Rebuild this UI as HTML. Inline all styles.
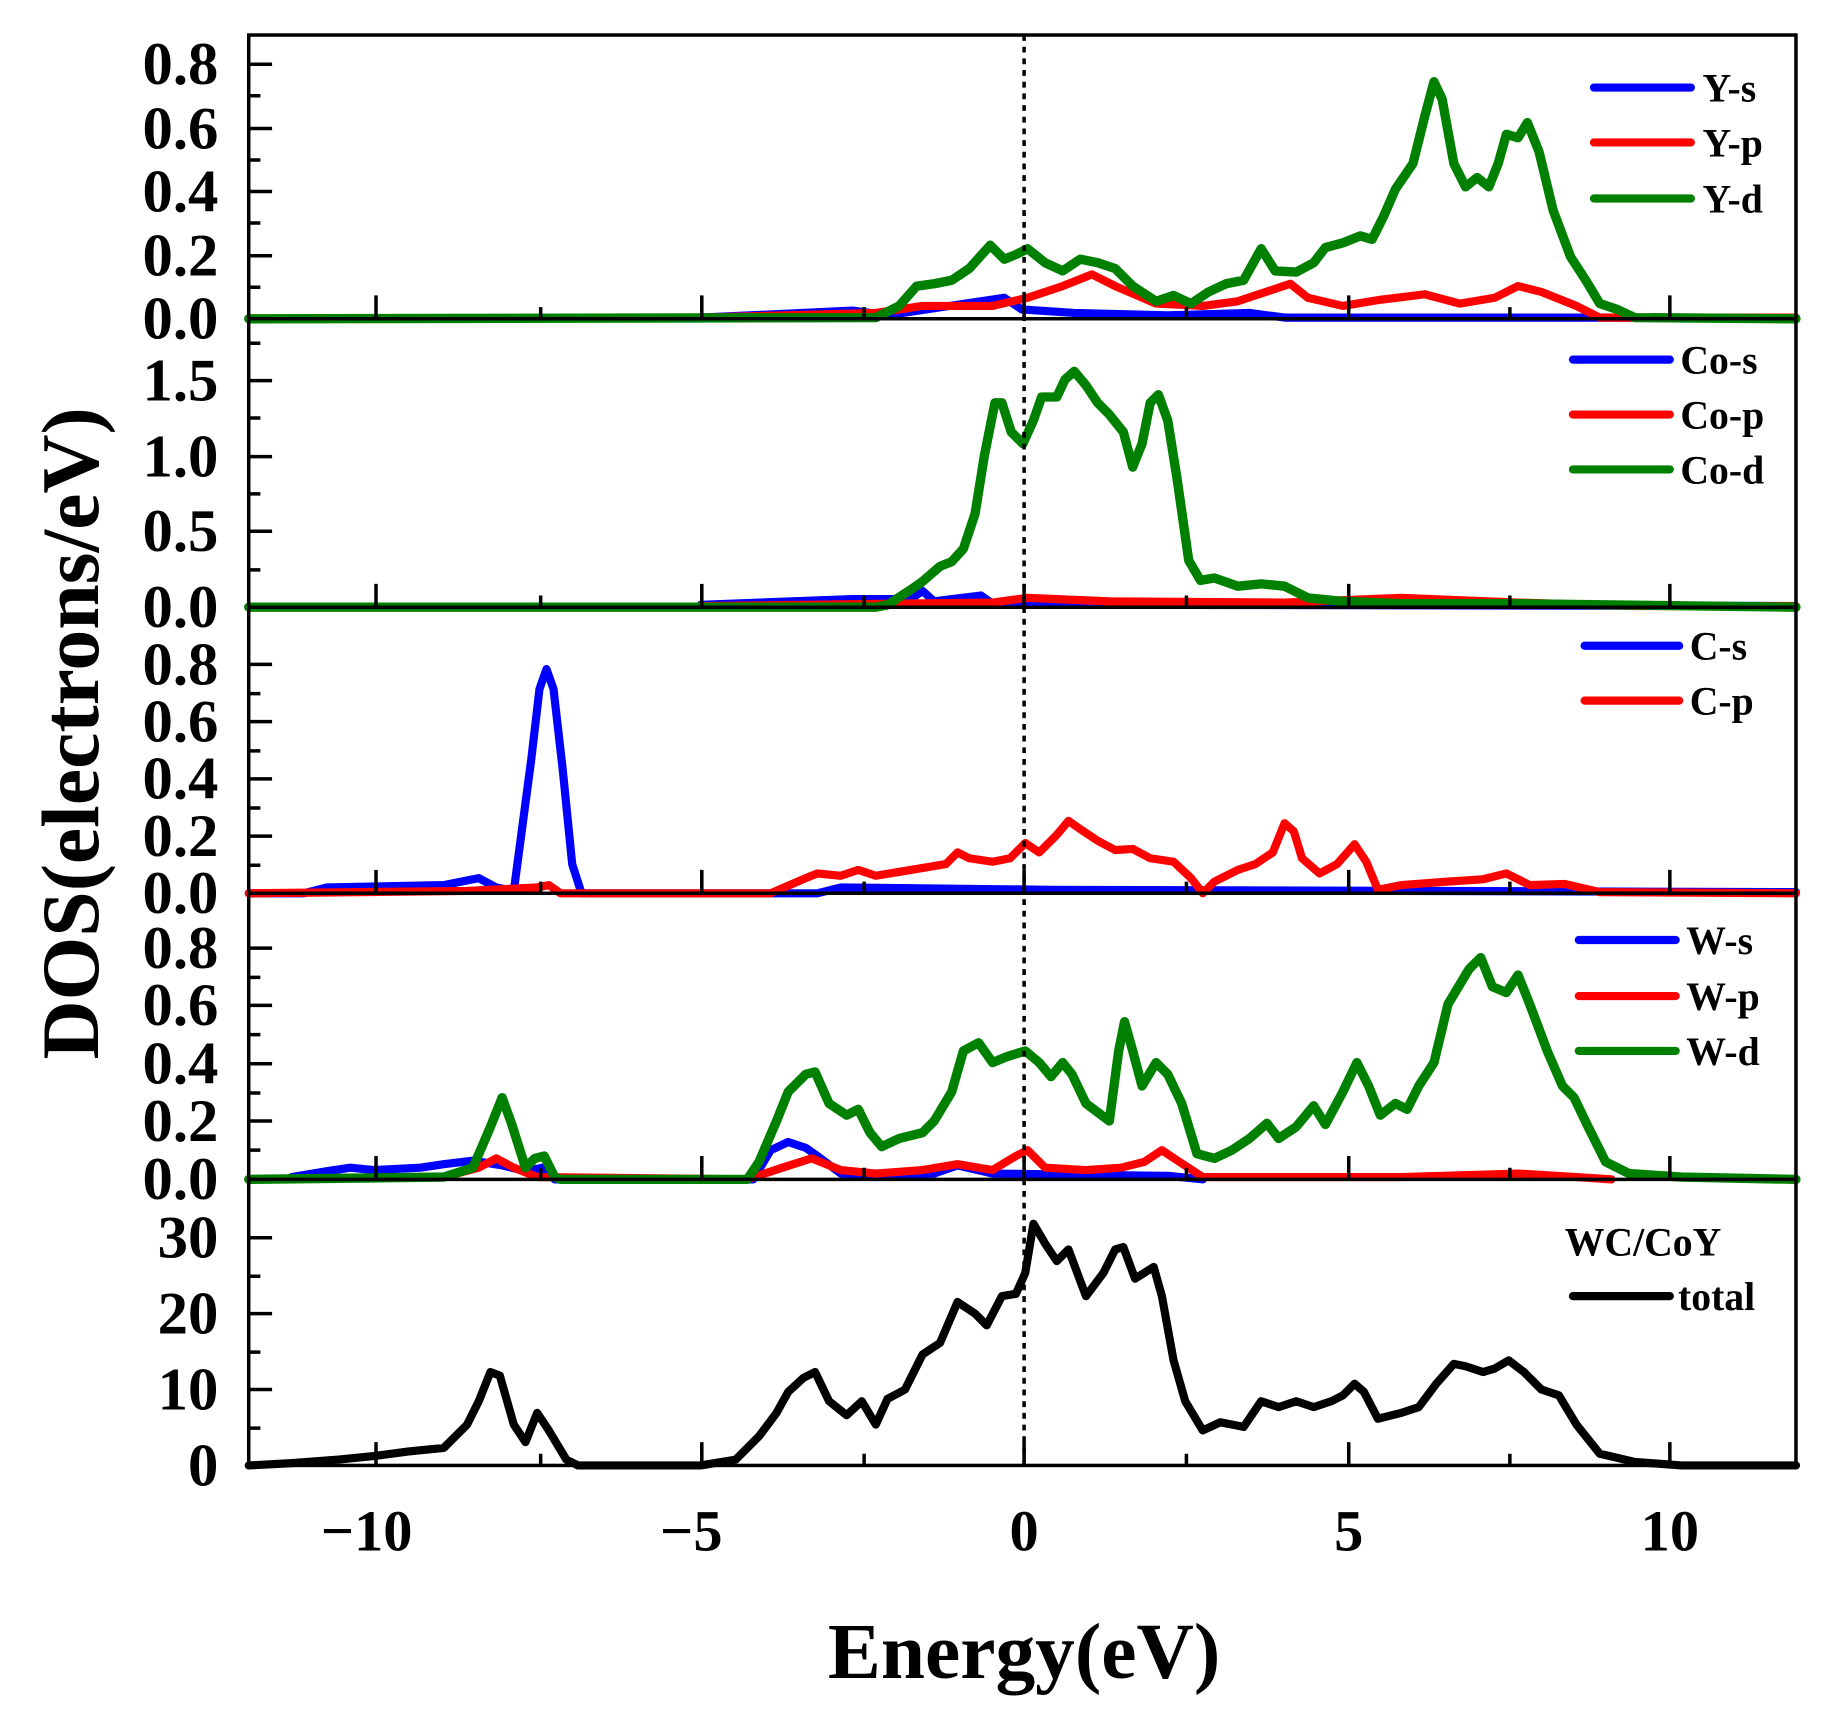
<!DOCTYPE html>
<html><head><style>
html,body{margin:0;padding:0;background:#fff;}
svg{display:block;}
text{font-family:"Liberation Serif",serif;font-weight:bold;fill:#000;}
</style></head><body>
<svg width="1831" height="1713" viewBox="0 0 1568 1467" preserveAspectRatio="none" xmlns="http://www.w3.org/2000/svg">
<rect width="1568" height="1467" fill="#fff"/>
<g fill="none" stroke-linejoin="round" stroke-linecap="round">
<polyline stroke="#0000ff" stroke-width="7" points="600,272 730,266 760,270 860,255 875,265 920,268 1000,270 1070,268 1100,272 1538,272"/>
<polyline stroke="#ff0000" stroke-width="7" points="600,272 750,268 790,262 850,262 880,255 910,245 935,235 955,245 990,260 1030,262 1060,258 1090,248 1105,243 1120,255 1150,262 1180,257 1220,252 1250,260 1280,255 1300,245 1320,250 1350,262 1370,272 1538,272"/>
<polyline stroke="#008000" stroke-width="8" points="213,273 750,272 770,262 785,245 800,243 815,240 830,230 848,210 860,222 870,218 880,213 895,225 910,232 925,222 940,225 955,230 970,245 990,258 1005,253 1020,260 1035,250 1050,243 1065,240 1080,213 1092,232 1110,233 1125,225 1135,212 1150,208 1165,202 1175,205 1185,185 1195,162 1210,140 1220,100 1228,70 1235,85 1245,140 1255,160 1265,152 1275,160 1283,140 1290,115 1300,118 1308,105 1318,130 1330,180 1345,220 1358,240 1370,260 1385,265 1400,272 1538,273"/>
<polyline stroke="#0000ff" stroke-width="7" points="600,518 730,513 780,513 790,506 800,515 840,510 850,517 1000,518 1538,519"/>
<polyline stroke="#ff0000" stroke-width="7" points="600,519 850,516 880,512 950,515 1100,516 1200,512 1300,516 1400,519 1538,519"/>
<polyline stroke="#008000" stroke-width="8" points="213,520 750,520 760,518 780,505 790,498 805,485 815,481 825,470 835,440 843,390 852,345 858,345 866,370 876,380 885,360 892,340 905,340 912,325 920,318 930,330 940,345 950,355 962,370 970,400 978,380 985,345 992,338 1000,360 1008,410 1018,480 1028,497 1040,495 1060,502 1080,500 1100,502 1120,512 1150,515 1200,517 1300,517 1538,520"/>
<polyline stroke="#0000ff" stroke-width="7" points="213,765 260,765 280,760 380,758 410,752 425,760 440,763 455,650 462,590 468,573 474,590 482,660 490,740 498,765 700,765 720,760 900,762 1538,764"/>
<polyline stroke="#ff0000" stroke-width="7" points="213,765 400,763 460,760 470,758 480,765 660,765 690,752 700,748 720,750 735,745 750,750 780,745 810,740 820,730 830,735 850,738 865,735 878,722 890,730 905,715 915,703 925,710 940,720 955,728 970,727 985,735 1005,738 1020,752 1030,765 1040,755 1060,745 1075,740 1090,730 1100,705 1108,712 1115,735 1130,748 1145,740 1160,723 1170,738 1180,762 1200,758 1240,755 1270,753 1290,748 1310,758 1340,757 1370,764 1538,765"/>
<polyline stroke="#0000ff" stroke-width="7" points="250,1008 280,1003 300,1000 320,1002 360,1000 380,997 405,994 430,998 450,1003 465,1000 475,1010 645,1010 660,985 675,978 690,983 700,990 720,1005 750,1008 800,1005 820,998 850,1005 1000,1007 1030,1010"/>
<polyline stroke="#ff0000" stroke-width="7" points="380,1008 410,1000 425,992 440,1000 460,1008 640,1010 670,1000 695,992 720,1002 750,1005 790,1002 820,997 850,1002 870,990 880,985 895,1000 930,1002 960,1000 980,995 995,985 1010,995 1030,1008 1200,1008 1300,1005 1350,1008 1380,1010"/>
<polyline stroke="#008000" stroke-width="8" points="213,1010 380,1008 405,1000 420,965 430,940 438,962 450,1000 458,992 466,990 475,1008 480,1010 640,1010 650,995 665,960 675,935 690,920 698,918 710,945 725,955 735,950 745,970 755,982 770,975 790,970 800,960 815,935 825,900 838,893 850,910 862,905 878,900 890,910 900,922 910,910 918,920 930,945 950,960 958,900 963,875 970,900 978,930 990,910 1000,920 1012,945 1025,988 1040,992 1055,985 1070,975 1085,962 1095,975 1110,965 1125,947 1135,963 1150,935 1162,910 1172,930 1182,955 1195,945 1205,950 1215,930 1228,910 1240,860 1258,830 1268,820 1278,845 1290,850 1300,835 1310,860 1325,900 1338,930 1348,940 1360,965 1375,995 1395,1005 1440,1008 1538,1010"/>
<polyline stroke="#000" stroke-width="7" points="213,1255 250,1253 290,1250 320,1247 350,1243 380,1240 400,1220 410,1200 420,1175 428,1178 440,1220 450,1235 460,1210 470,1225 485,1250 495,1255 600,1255 630,1250 650,1230 665,1210 675,1192 688,1180 698,1175 710,1200 725,1212 738,1200 750,1220 760,1198 775,1190 790,1160 805,1150 820,1115 835,1125 845,1135 858,1110 870,1108 878,1090 885,1048 895,1065 905,1080 915,1070 930,1110 945,1090 955,1070 962,1068 972,1095 980,1090 988,1085 995,1110 1005,1165 1015,1200 1030,1225 1045,1218 1065,1222 1080,1200 1095,1205 1110,1200 1125,1205 1140,1200 1150,1195 1160,1185 1168,1192 1180,1215 1200,1210 1215,1205 1230,1185 1245,1168 1255,1170 1270,1175 1280,1172 1292,1165 1305,1175 1320,1190 1335,1195 1350,1220 1370,1245 1400,1252 1440,1255 1538,1255"/>
</g>
<line x1="877" y1="30" x2="877" y2="1255" stroke="#000" stroke-width="3" stroke-dasharray="5,5"/>
<g stroke="#000" stroke-width="3" fill="none">
<rect x="213" y="30" width="1325" height="1225"/>
<line x1="213" y1="273" x2="1538" y2="273"/>
<line x1="213" y1="520" x2="1538" y2="520"/>
<line x1="213" y1="765" x2="1538" y2="765"/>
<line x1="213" y1="1010" x2="1538" y2="1010"/>
</g>
<g stroke="#000" stroke-width="3">
<path d="M322,273v-20M601,273v-20M877,273v-20M1155,273v-20M1430,273v-20M463,273v-10M740,273v-10M1016,273v-10M1293,273v-10
M322,520v-20M601,520v-20M877,520v-20M1155,520v-20M1430,520v-20M463,520v-10M740,520v-10M1016,520v-10M1293,520v-10
M322,765v-20M601,765v-20M877,765v-20M1155,765v-20M1430,765v-20M463,765v-10M740,765v-10M1016,765v-10M1293,765v-10
M322,1010v-20M601,1010v-20M877,1010v-20M1155,1010v-20M1430,1010v-20M463,1010v-10M740,1010v-10M1016,1010v-10M1293,1010v-10
M322,1255v-20M601,1255v-20M877,1255v-20M1155,1255v-20M1430,1255v-20M463,1255v-10M740,1255v-10M1016,1255v-10M1293,1255v-10"/>
<path d="M213,55h20M213,110h20M213,164h20M213,219h20M213,82h10M213,137h10M213,191h10M213,246h10
M213,326h20M213,391h20M213,455h20M213,294h10M213,358h10M213,423h10M213,488h10
M213,569h20M213,618h20M213,667h20M213,716h20M213,594h10M213,643h10M213,692h10M213,741h10
M213,812h20M213,861h20M213,911h20M213,960h20M213,837h10M213,886h10M213,936h10M213,985h10
M213,1060h20M213,1125h20M213,1190h20M213,1093h10M213,1158h10M213,1223h10"/>
</g>
<g font-size="52" text-anchor="end">
<text x="187" y="72">0.8</text><text x="187" y="127">0.6</text><text x="187" y="181">0.4</text><text x="187" y="236">0.2</text><text x="187" y="290">0.0</text>
<text x="187" y="343">1.5</text><text x="187" y="408">1.0</text><text x="187" y="472">0.5</text><text x="187" y="537">0.0</text>
<text x="187" y="586">0.8</text><text x="187" y="635">0.6</text><text x="187" y="684">0.4</text><text x="187" y="733">0.2</text><text x="187" y="782">0.0</text>
<text x="187" y="829">0.8</text><text x="187" y="878">0.6</text><text x="187" y="928">0.4</text><text x="187" y="977">0.2</text><text x="187" y="1027">0.0</text>
<text x="187" y="1077">30</text><text x="187" y="1142">20</text><text x="187" y="1207">10</text><text x="187" y="1272">0</text>
</g>
<g font-size="50" text-anchor="middle">
<text x="314" y="1328">−10</text><text x="592" y="1328">−5</text><text x="877" y="1328">0</text><text x="1155" y="1328">5</text><text x="1430" y="1328">10</text>
</g>
<text x="877" y="1437" font-size="68" text-anchor="middle">Energy(eV)</text>
<text transform="translate(84,628) rotate(-90)" font-size="70" text-anchor="middle">DOS(electrons/eV)</text>
<g stroke-width="7" stroke-linecap="round">
<line x1="1365" y1="75" x2="1448" y2="75" stroke="#0000ff"/>
<line x1="1365" y1="122" x2="1448" y2="122" stroke="#ff0000"/>
<line x1="1365" y1="170" x2="1448" y2="170" stroke="#008000"/>
<line x1="1347" y1="308" x2="1430" y2="308" stroke="#0000ff"/>
<line x1="1347" y1="355" x2="1430" y2="355" stroke="#ff0000"/>
<line x1="1347" y1="402" x2="1430" y2="402" stroke="#008000"/>
<line x1="1357" y1="553" x2="1438" y2="553" stroke="#0000ff"/>
<line x1="1357" y1="600" x2="1438" y2="600" stroke="#ff0000"/>
<line x1="1352" y1="805" x2="1435" y2="805" stroke="#0000ff"/>
<line x1="1352" y1="853" x2="1435" y2="853" stroke="#ff0000"/>
<line x1="1352" y1="900" x2="1435" y2="900" stroke="#008000"/>
<line x1="1347" y1="1110" x2="1430" y2="1110" stroke="#000"/>
</g>
<g font-size="34">
<text x="1458" y="87">Y-s</text><text x="1458" y="134">Y-p</text><text x="1458" y="182">Y-d</text>
<text x="1439" y="320">Co-s</text><text x="1439" y="367">Co-p</text><text x="1439" y="414">Co-d</text>
<text x="1447" y="565">C-s</text><text x="1447" y="612">C-p</text>
<text x="1444" y="817">W-s</text><text x="1444" y="865">W-p</text><text x="1444" y="912">W-d</text>
<text x="1340" y="1075">WC/CoY</text><text x="1437" y="1122">total</text>
</g>
</svg>
</body></html>
